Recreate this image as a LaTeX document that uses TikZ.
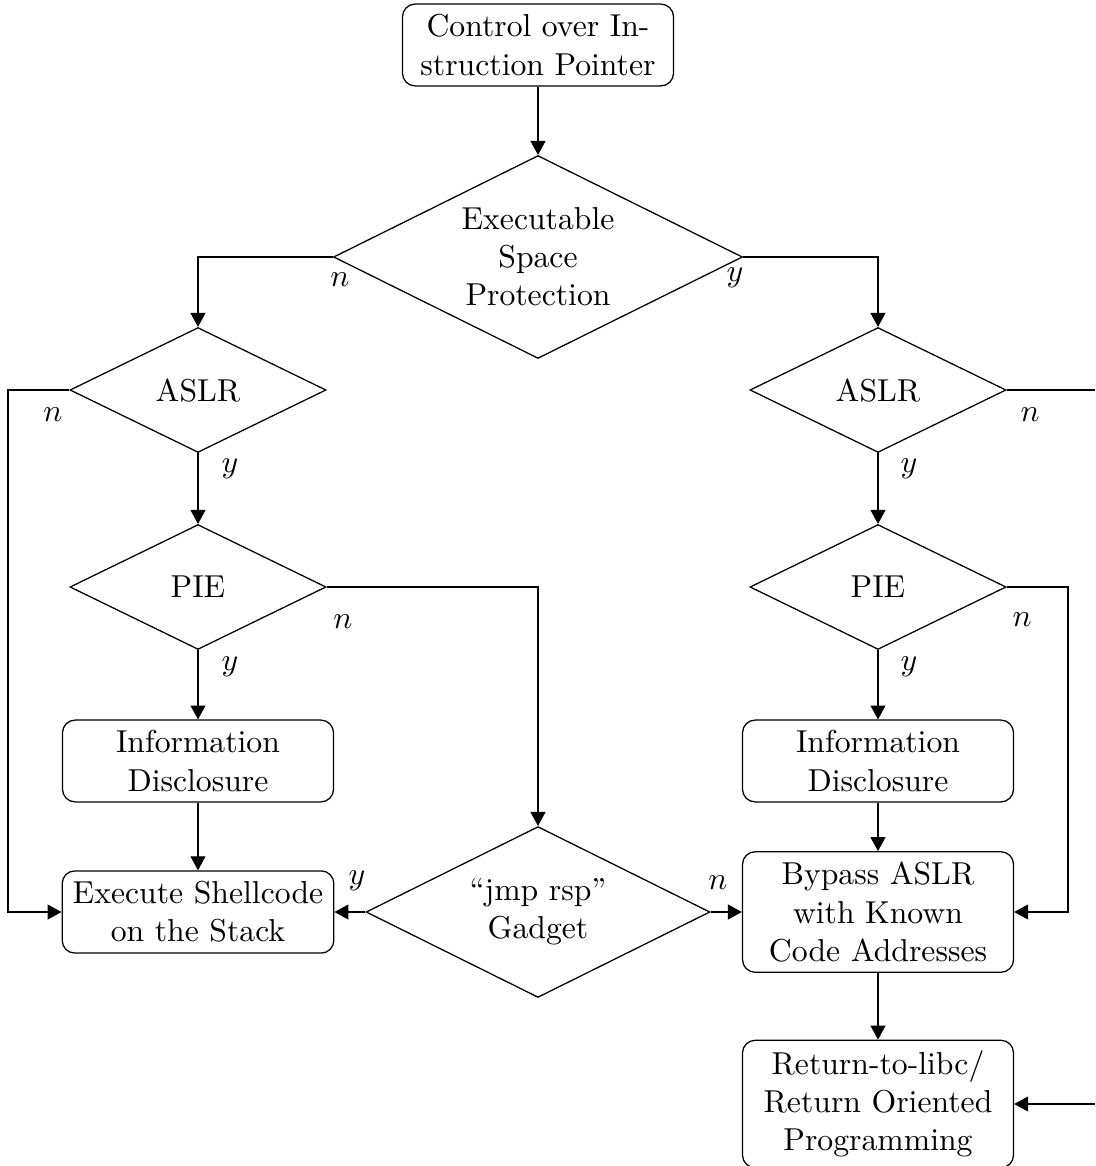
\documentclass[tikz,border=0pt]{standalone}
\usetikzlibrary{shapes.geometric,arrows.meta}
\begin{document}
\begin{tikzpicture}[
  x=0.31546pt, y=-0.31546pt,
  box/.style={draw, rounded corners=4pt, align=center, minimum width=85.5pt, inner sep=3.33pt},
  bigdec/.style={draw, diamond, aspect=2, inner sep=0pt, align=center, minimum width=129pt, minimum height=64pt},
  dec/.style={draw, diamond, aspect=2, inner sep=0pt, align=center, minimum width=80.8pt, minimum height=39.4pt},
  middec/.style={draw, diamond, aspect=2, inner sep=0pt, align=center, minimum width=108.5pt, minimum height=53.9pt},
  arr/.style={-{Triangle[length=4.4pt,width=4.7pt]}},
  lbl/.style={inner sep=0pt}
]
\useasboundingbox (0,0) rectangle (1095,1166);

% nodes
\node[box] (top) at (538,45) {Control over In-\\struction Pointer};
\node[bigdec] (exe) at (538,257) {Executable\\Space\\Protection};
\node[dec] (aslrL) at (198,390) {ASLR};
\node[dec] (aslrR) at (878,390) {ASLR};
\node[dec] (pieL) at (198,587) {PIE};
\node[dec] (pieR) at (878,587) {PIE};
\node[box] (infoL) at (198,761) {Information\\Disclosure};
\node[box] (infoR) at (878,761) {Information\\Disclosure};
\node[box] (shell) at (198,912) {Execute Shellcode\\on the Stack};
\node[middec] (jmp) at (538,912) {``jmp rsp''\\Gadget};
\node[box] (bypass) at (878,912) {Bypass ASLR\\with Known\\Code Addresses};
\node[box] (ret) at (878,1104) {Return-to-libc/\\Return Oriented\\Programming};

% rails and loose ends
\coordinate (lrail) at (8,0);
\coordinate (rrail) at (1068,0);
\coordinate (redgeA) at (1095,390);
\coordinate (redgeB) at (1095,1104);

% connectors
\draw[arr] (top.south) -- (exe.north);
\draw[arr] (exe.west) -| (aslrL.north);
\draw[arr] (exe.east) -| (aslrR.north);
\draw[arr] (aslrL.west) -| (lrail |- shell.west) -- (shell.west);
\draw[arr] (aslrL.south) -- (pieL.north);
\draw[arr] (pieL.east) -| (jmp.north);
\draw[arr] (pieL.south) -- (infoL.north);
\draw[arr] (infoL.south) -- (shell.north);
\draw[arr] (jmp.west) -- (shell.east);
\draw[arr] (jmp.east) -- (bypass.west);
\draw (aslrR.east) -- (redgeA);
\draw[arr] (aslrR.south) -- (pieR.north);
\draw[arr] (pieR.east) -| (rrail |- bypass.east) -- (bypass.east);
\draw[arr] (pieR.south) -- (infoR.north);
\draw[arr] (infoR.south) -- (bypass.north);
\draw[arr] (bypass.south) -- (ret.north);
\draw[arr] (redgeB) -- (ret.east);

% branch labels
\node[lbl] (lexeN) at (340,280) {$n$};
\node[lbl] (lexeY) at (735,278) {$y$};
\node[lbl] (laslrLN) at (53,415) {$n$};
\node[lbl] (laslrRN) at (1030,415) {$n$};
\node[lbl] (laslrLY) at (230,469) {$y$};
\node[lbl] (laslrRY) at (909,469) {$y$};
\node[lbl] (lpieLN) at (343,622) {$n$};
\node[lbl] (lpieRN) at (1022,620) {$n$};
\node[lbl] (lpieLY) at (230,667) {$y$};
\node[lbl] (lpieRY) at (909,667) {$y$};
\node[lbl] (ljmpY) at (357,881) {$y$};
\node[lbl] (ljmpN) at (718,883) {$n$};
\end{tikzpicture}
\end{document}
